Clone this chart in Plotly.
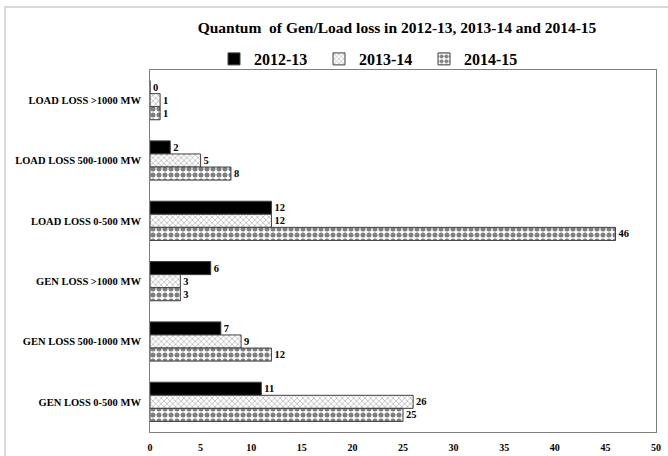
import plotly.graph_objects as go

# Event categories, listed top to bottom as they appear on the chart
categories = [
    "LOAD LOSS >1000 MW",
    "LOAD LOSS 500-1000 MW",
    "LOAD LOSS 0-500 MW",
    "GEN LOSS >1000 MW",
    "GEN LOSS 500-1000 MW",
    "GEN LOSS 0-500 MW",
]

years = ["2012-13", "2013-14", "2014-15"]

counts_2012_13 = [0, 2, 12, 6, 7, 11]
counts_2013_14 = [1, 5, 12, 3, 9, 26]
counts_2014_15 = [1, 8, 46, 3, 12, 25]

x_ticks = [0, 5, 10, 15, 20, 25, 30, 35, 40, 45, 50]

FONT = "Liberation Serif"

patterns = [
    dict(shape="", fgcolor="black", bgcolor="black"),
    dict(shape="x", fgcolor="#6e6e6e", bgcolor="white", size=4, solidity=0.35),
    dict(shape=".", fgcolor="black", bgcolor="white", size=6, solidity=0.55),
]
fills = ["black", "white", "white"]

fig = go.Figure()
for name, vals, pat, fill in zip(years, [counts_2012_13, counts_2013_14, counts_2014_15], patterns, fills):
    fig.add_trace(go.Bar(
        name=name,
        y=categories,
        x=vals,
        orientation="h",
        marker=dict(color=fill, pattern=pat, line=dict(color="#404040", width=1)),
        text=[str(v) for v in vals],
        textposition="outside",
        cliponaxis=False,
        textfont=dict(family=FONT, size=10.5, color="black", weight="bold"),
    ))

fig.update_layout(
    width=668,
    height=456,
    margin=dict(l=150, r=12, t=70, b=24),
    paper_bgcolor="white",
    plot_bgcolor="white",
    barmode="group",
    bargap=0.35,
    bargroupgap=0,
    font=dict(family=FONT, color="black"),
    title=dict(
        text="<b>Quantum  of Gen/Load loss in 2012-13, 2013-14 and 2014-15</b>",
        x=(397 - 150) / 506, xref="paper", xanchor="center",
        y=1 - 28 / 456, yanchor="middle", yref="container",
        font=dict(family=FONT, size=15.5, color="black"),
    ),
    legend=dict(
        orientation="h",
        x=(214 - 150) / 506, xref="paper", xanchor="left",
        y=1 + (70 - 59) / 362, yanchor="middle",
        font=dict(family=FONT, size=16, color="black", weight="bold"),
        entrywidth=60,
        itemwidth=30,
        traceorder="normal",
        bgcolor="rgba(0,0,0,0)",
    ),
    xaxis=dict(
        range=[0, 50],
        tickvals=x_ticks,
        ticktext=[str(t) for t in x_ticks],
        showgrid=False,
        zeroline=False,
        showline=True,
        linecolor="#7f7f7f",
        linewidth=1,
        mirror=True,
        ticks="",
        automargin=False,
        ticklabelstandoff=6,
        tickfont=dict(family=FONT, size=10, color="black", weight="bold"),
    ),
    yaxis=dict(
        autorange="reversed",
        showgrid=False,
        showline=True,
        linecolor="#7f7f7f",
        linewidth=1,
        mirror=True,
        ticks="",
        automargin=False,
        ticklabelstandoff=6,
        tickfont=dict(family=FONT, size=10.5, color="black", weight="bold"),
    ),
    shapes=[
        dict(type="rect", xref="paper", yref="paper",
             x0=(5 - 150) / 506, x1=1.1, y0=-0.2, y1=1 + (70 - 7) / 362,
             line=dict(color="#d9d9d9", width=2), fillcolor="rgba(0,0,0,0)", layer="below"),
    ],
)

fig.write_html("out.html")
